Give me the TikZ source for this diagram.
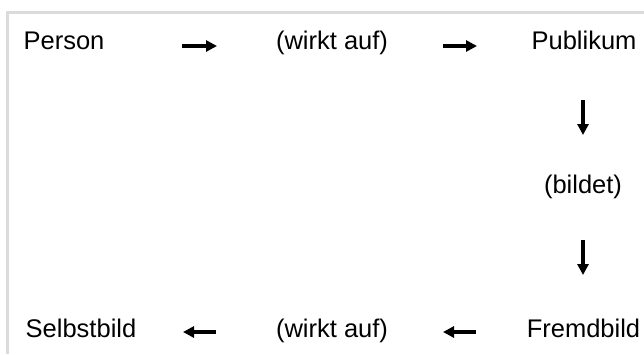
\documentclass[tikz,border=0pt]{standalone}
\usepackage{fontspec}
\setmainfont{Liberation Sans}
\usetikzlibrary{arrows.meta}
\begin{document}
\begin{tikzpicture}[x=1pt,y=-1pt,
  lbl/.style={inner sep=0pt, anchor=base, font=\fontsize{25.5}{30}\selectfont},
  arr/.style={line width=3.2pt, -{Triangle[length=11pt,width=11pt]}}]
\useasboundingbox (0,0) rectangle (644,354);
\draw[color=black!14, line width=2.5pt] (7.5,354) -- (7.5,12.5) -- (644,12.5);
% top row
\node[lbl] (person) at (64,49.5) {Person};
\node[lbl] (w1) at (332,49.5) {(wirkt auf)};
\node[lbl] (pub) at (584,49.5) {Publikum};
% middle
\node[lbl] (bildet) at (583,193) {(bildet)};
% bottom row
\node[lbl] (selbst) at (81,337) {Selbstbild};
\node[lbl] (w2) at (332,337) {(wirkt auf)};
\node[lbl] (fremd) at (583.5,337) {Fremdbild};
% arrow end points
\coordinate (a1s) at (182,46); \coordinate (a1e) at (217,46);
\coordinate (a2s) at (443,46); \coordinate (a2e) at (477,46);
\coordinate (v1s) at (583,100); \coordinate (v1e) at (583,135);
\coordinate (v2s) at (583,240); \coordinate (v2e) at (583,275);
\coordinate (b1s) at (476,332); \coordinate (b1e) at (443,332);
\coordinate (b2s) at (216,332); \coordinate (b2e) at (183,332);
\draw[arr] (a1s) -- (a1e);
\draw[arr] (a2s) -- (a2e);
\draw[arr] (v1s) -- (v1e);
\draw[arr] (v2s) -- (v2e);
\draw[arr] (b1s) -- (b1e);
\draw[arr] (b2s) -- (b2e);
\end{tikzpicture}
\end{document}
